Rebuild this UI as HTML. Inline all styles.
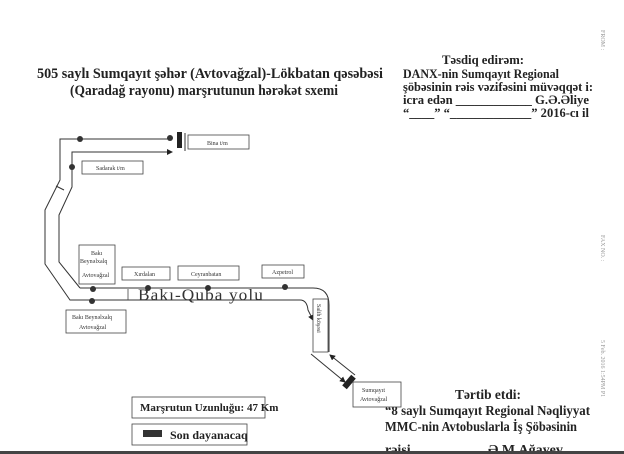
<!DOCTYPE html>
<html><head><meta charset="utf-8"><style>
html,body{margin:0;padding:0;background:#fff}
svg{display:block}
text{font-family:"Liberation Serif",serif}
</style></head><body>
<svg width="624" height="454" viewBox="0 0 624 454" xmlns="http://www.w3.org/2000/svg">
<defs><marker id="a" markerWidth="6" markerHeight="6" refX="5" refY="3" orient="auto"><path d="M0,0 L6,3 L0,6 z" fill="#222"/></marker></defs>
<rect width="624" height="454" fill="#fff"/>
<g font-weight="bold" fill="#222">
<text x="37" y="78" font-size="15" textLength="346" lengthAdjust="spacingAndGlyphs">505 saylı Sumqayıt şəhər (Avtovağzal)-Lökbatan qəsəbəsi</text>
<text x="70" y="95" font-size="15" textLength="268" lengthAdjust="spacingAndGlyphs">(Qaradağ rayonu) marşrutunun hərəkət sxemi</text>
<text x="442" y="64" font-size="13" textLength="82" lengthAdjust="spacingAndGlyphs">Təsdiq edirəm:</text>
<text x="403" y="78" font-size="13" textLength="156" lengthAdjust="spacingAndGlyphs">DANX-nin Sumqayıt Regional</text>
<text x="403" y="91" font-size="13" textLength="190" lengthAdjust="spacingAndGlyphs">şöbəsinin rəis vəzifəsini müvəqqət i:</text>
<text x="403" y="104" font-size="13" textLength="186" lengthAdjust="spacingAndGlyphs">icra edən ____________ G.Ə.Əliye</text>
<text x="403" y="117" font-size="13" textLength="186" lengthAdjust="spacingAndGlyphs">“____” “_____________” 2016-cı il</text>
<text x="455" y="399" font-size="14" textLength="66" lengthAdjust="spacingAndGlyphs">Tərtib etdi:</text>
<text x="385" y="415" font-size="14" textLength="205" lengthAdjust="spacingAndGlyphs">“8 saylı Sumqayıt Regional Nəqliyyat</text>
<text x="385" y="431" font-size="14" textLength="192" lengthAdjust="spacingAndGlyphs">MMC-nin Avtobuslarla İş Şöbəsinin</text>
<text x="385" y="454" font-size="14">rəisi</text>
<text x="488" y="454" font-size="14">Ə.M.Ağayev</text>
</g>
<g fill="none" stroke="#333" stroke-width="1">
<!-- outer path -->
<path d="M172,139 L60,139 L60,180 L45,210 L45,264 L70,300 L300,300 Q307,300 308,310 L313,320" marker-end="url(#a)"/>
<path d="M80,288 L59,262 L59,215 L72,187 L72,152 L172,152" marker-end="url(#a)"/>
<path d="M80,288 L313,288 Q329,288 329,305 L329,352"/>
<path d="M311,354 L345,382" marker-end="url(#a)"/>
<path d="M355,375 L330,355" marker-end="url(#a)"/>
<line x1="185" y1="133" x2="185" y2="151"/>
<line x1="56" y1="186" x2="64" y2="190"/>
</g>
<rect x="177" y="132" width="5" height="16" fill="#222"/>
<rect x="346" y="375" width="6" height="14" fill="#222" transform="rotate(40 349 382)"/>
<g fill="#333">
<circle cx="80" cy="139" r="3"/><circle cx="170" cy="138" r="3"/>
<circle cx="72" cy="167" r="3"/>
<circle cx="93" cy="289" r="3"/><circle cx="148" cy="288" r="3"/><circle cx="208" cy="288" r="3"/><circle cx="285" cy="287" r="3"/>
<circle cx="92" cy="301" r="3"/>
</g>
<g fill="#fff" stroke="#444" stroke-width="0.8">
<rect x="188" y="135" width="61" height="14"/>
<rect x="82" y="161" width="61" height="13"/>
<rect x="79" y="245" width="36" height="39"/>
<rect x="122" y="267" width="48" height="13"/>
<rect x="178" y="266" width="61" height="14"/>
<rect x="262" y="265" width="42" height="13"/>
<rect x="66" y="310" width="60" height="23"/>
<rect x="313" y="299" width="15" height="53"/>
<rect x="353" y="382" width="48" height="25"/>
<rect x="132" y="397" width="133" height="21"/>
<rect x="132" y="424" width="115" height="21"/>
</g>
<line x1="128" y1="289" x2="128" y2="300" stroke="#444" stroke-width="0.8"/>
<g fill="#333" font-size="6">
<text x="207" y="145">Bina t/m</text>
<text x="96" y="170">Sadarak t/m</text>
<text x="91" y="255">Bakı</text>
<text x="80" y="263">Beynəlxalq</text>
<text x="82" y="277">Avtovağzal</text>
<text x="134" y="276">Xırdalan</text>
<text x="191" y="276">Ceyranbatan</text>
<text x="272" y="274">Azpetrol</text>
<text x="72" y="319">Bakı Beynəlxalq</text>
<text x="79" y="329">Avtovağzal</text>
<text x="362" y="392">Sumqayıt</text>
<text x="360" y="401">Avtovağzal</text>
<text transform="translate(317,304) rotate(90)">Salih köşəsi</text>
</g>
<text x="138" y="300" font-size="16" fill="#333" letter-spacing="1" textLength="126" lengthAdjust="spacingAndGlyphs">Bakı-Quba yolu</text>
<g font-weight="bold" fill="#222" font-size="11">
<text x="140" y="411">Marşrutun Uzunluğu: 47 Km</text>
<text x="170" y="439" font-size="12">Son dayanacaq</text>
</g>
<rect x="143" y="430" width="19" height="7" fill="#333"/>
<g fill="#999" font-size="6" font-family="Liberation Mono,monospace">
<text transform="translate(601,30) rotate(90)">FROM :</text>
<text transform="translate(601,235) rotate(90)">FAX NO. :</text>
<text transform="translate(601,340) rotate(90)">5 Feb. 2016 1:54PM P1</text>
</g>
<rect x="0" y="451" width="624" height="3" fill="#444"/>
</svg>
</body></html>
